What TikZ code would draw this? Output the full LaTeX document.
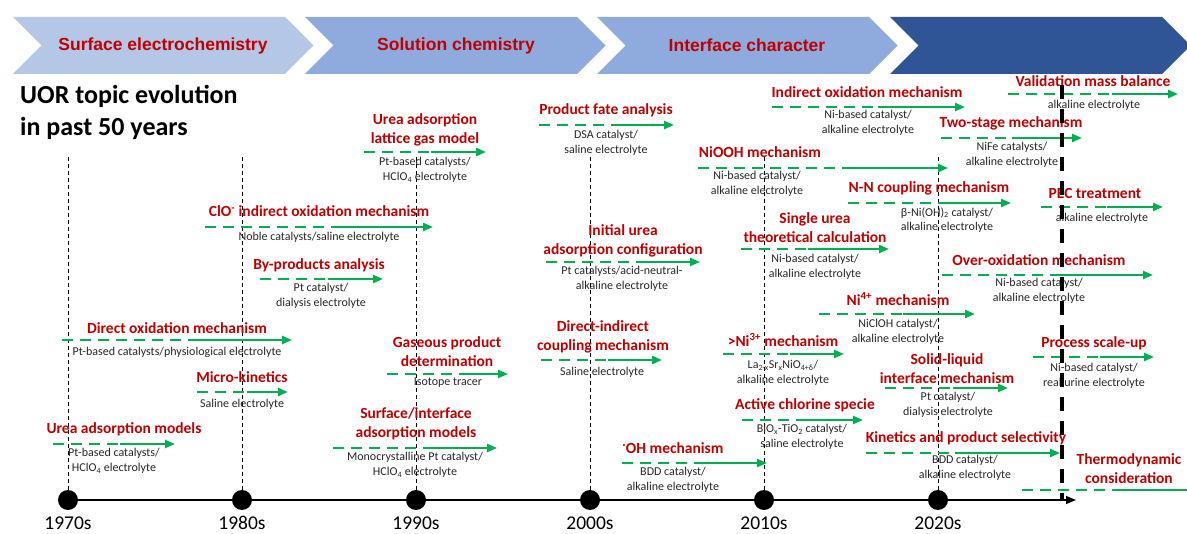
\documentclass[tikz,border=0pt]{standalone}
\usepackage{fontspec}
\setmainfont{Carlito}
\newfontfamily\bannerfont{Liberation Sans}
\usetikzlibrary{arrows.meta,calc}
\definecolor{uorRed}{HTML}{C00000}
\definecolor{uorGreen}{HTML}{00B050}
\definecolor{uorPale}{HTML}{B4C7E7}
\definecolor{uorMid}{HTML}{8FAADC}
\definecolor{uorDeep}{HTML}{2F5597}
\definecolor{uorText}{HTML}{262626}

\tikzset{
  topic/.style={text=uorRed, font=\fontsize{15.5}{19}\selectfont\bfseries, align=center, inner sep=0pt},
  detail/.style={text=uorText, font=\fontsize{12}{14.5}\selectfont, align=center, inner sep=0pt},
  trendline/.style={uorGreen, line width=2.4pt},
  trenddash/.style={trendline, dash pattern=on 11pt off 7pt},
  era/.style={text=uorRed, font=\fontsize{17.5}{20}\bannerfont\bfseries, inner sep=0pt},
  decade/.style={font=\fontsize{19.5}{22}\selectfont, inner sep=0pt},
  guide/.style={black, line width=0.9pt, dash pattern=on 4pt off 3pt},
}

% green trend arrow: name, x start, x end, y, dashed share
\newcommand{\trend}[5]{%
  \coordinate (#1-a) at (#2,#4);
  \coordinate (#1-b) at (#3,#4);
  \coordinate (#1-m) at ($(#1-a)!#5!(#1-b)$);
  \draw[trenddash] (#1-a) -- (#1-m);
  \draw[trendline, -{Triangle[length=10pt,width=8pt]}] (#1-m) -- (#1-b);
}
% banner chevron: x of top left corner, colour
\newcommand{\chevron}[2]{%
  \fill[#2] (#1,17) -- ++(272,0) -- ++(28.5,28.5) -- ++(-28.5,28.5)
    -- ++(-272,0) -- ++(28.5,-28.5) -- cycle;
}

\begin{document}
\begin{tikzpicture}[x=1pt, y=-1pt]
  \useasboundingbox (0,0) rectangle (1187,534);
  \clip (0,0) rectangle (1187,534);

  % banner
  \chevron{13}{uorPale}
  \chevron{305}{uorMid}
  \chevron{597}{uorMid}
  \chevron{890}{uorDeep}
  \node[era] (surf) at (163,45.5) {Surface electrochemistry};
  \node[era] (sol) at (456,45.5) {Solution chemistry};
  \node[era] (intf) at (747,45.5) {Interface character};

  \node[anchor=west, align=left, inner sep=0pt,
        font=\fontsize{26}{32}\selectfont\bfseries] (head) at (20,112)
        {UOR topic evolution\\in past 50 years};

  % decade guides
  \foreach \x in {68,242,416,590,764,938}
    \draw[guide] (\x,157) -- (\x,500);

  % timeline
  \coordinate (axis-end) at (1076,500);
  \node[circle, fill=black, minimum size=20pt, inner sep=0pt] (d70) at (68,500) {};
  \node[circle, fill=black, minimum size=20pt, inner sep=0pt] (d80) at (242,500) {};
  \node[circle, fill=black, minimum size=20pt, inner sep=0pt] (d90) at (416,500) {};
  \node[circle, fill=black, minimum size=20pt, inner sep=0pt] (d00) at (590,500) {};
  \node[circle, fill=black, minimum size=20pt, inner sep=0pt] (d10) at (764,500) {};
  \node[circle, fill=black, minimum size=20pt, inner sep=0pt] (d20) at (938,500) {};
  \draw[line width=1.5pt, -{Triangle[length=10pt,width=8pt]}] (d70) -- (axis-end);
  \node[decade] at (68,523) {1970s};
  \node[decade] at (242,523) {1980s};
  \node[decade] at (416,523) {1990s};
  \node[decade] at (590,523) {2000s};
  \node[decade] at (764,523) {2010s};
  \node[decade] at (938,523) {2020s};

  % 1970s - 1980s
  \node[topic] (uam) at (124,429) {Urea adsorption models};
  \trend{uam}{53}{175}{444}{0.55}
  \node[detail] (uam-d) at (114,461) {Pt-based catalysts/\\HClO\textsubscript{4} electrolyte};

  \node[topic] (mk) at (242,377) {Micro-kinetics};
  \trend{mk}{197}{288}{392}{0.55}
  \node[detail] (mk-d) at (242,404) {Saline electrolyte};

  \node[topic] (dom) at (177,328) {Direct oxidation mechanism};
  \trend{dom}{62}{292}{340}{0.55}
  \node[detail] (dom-d) at (177,352) {Pt-based catalysts/physiological electrolyte};

  \node[topic] (bpa) at (319,265) {By-products analysis};
  \trend{bpa}{260}{383}{279}{0.55}
  \node[detail] (bpa-d) at (321,296) {Pt catalyst/\\dialysis electrolyte};

  \node[topic] (clo) at (319,211) {ClO\textsuperscript{-} indirect oxidation mechanism};
  \trend{clo}{205}{433}{227}{0.56}
  \node[detail] (clo-d) at (319,237) {Noble catalysts/saline electrolyte};

  % 1990s
  \node[topic] (lgm) at (425,130) {Urea adsorption\\lattice gas model};
  \trend{lgm}{364}{486}{152}{0.55}
  \node[detail] (lgm-d) at (425,170) {Pt-based catalysts/\\HClO\textsubscript{4} electrolyte};

  \node[topic] (gpd) at (447,352) {Gaseous product\\determination};
  \trend{gpd}{387}{508}{374}{0.6}
  \node[detail] (gpd-d) at (448,383) {Isotope tracer};

  \node[topic] (sia) at (416,424) {Surface/interface\\adsorption models};
  \trend{sia}{333}{497}{448}{0.55}
  \node[detail] (sia-d) at (415,465) {Monocrystalline Pt catalyst/\\HClO\textsubscript{4} electrolyte};

  % 2000s
  \node[topic] (pfa) at (606,110) {Product fate analysis};
  \trend{pfa}{539}{674}{125}{0.6}
  \node[detail] (pfa-d) at (606,143) {DSA catalyst/\\saline electrolyte};

  \node[topic] (iuc) at (623,241) {Initial urea\\adsorption configuration};
  \trend{iuc}{546}{700}{262}{0.6}
  \node[detail] (iuc-d) at (622,279) {Pt catalysts/acid-neutral-\\alkaline electrolyte};

  \node[topic] (dic) at (603,337) {Direct-indirect\\coupling mechanism};
  \trend{dic}{541}{662}{360}{0.55}
  \node[detail] (dic-d) at (602,372) {Saline electrolyte};

  \node[topic] (ohm) at (673,448) {\textsuperscript{·}OH mechanism};
  \trend{ohm}{622}{767}{463}{0.55}
  \node[detail] (ohm-d) at (673,480) {BDD catalyst/\\alkaline electrolyte};

  % 2010s
  \node[topic] (ni3) at (783,340) {>Ni\textsuperscript{3+} mechanism};
  \trend{ni3}{723}{844}{354}{0.55}
  \node[detail] (ni3-d) at (783,373) {La\textsubscript{2-x}Sr\textsubscript{x}NiO\textsubscript{4+δ}/\\alkaline electrolyte};

  \node[topic] (acs) at (805,405) {Active chlorine specie};
  \trend{acs}{742}{863}{420}{0.54}
  \node[detail] (acs-d) at (802,437) {BiO\textsubscript{x}-TiO\textsubscript{2} catalyst/\\saline electrolyte};

  \node[topic] (sut) at (815,228) {Single urea\\theoretical calculation};
  \trend{sut}{741}{889}{249}{0.45}
  \node[detail] (sut-d) at (815,267) {Ni-based catalyst/\\alkaline electrolyte};

  \node[topic] (niooh) at (760,152) {NiOOH mechanism};
  \trend{niooh}{698}{948}{168}{0.6}
  \node[detail] (niooh-d) at (757,184) {Ni-based catalyst/\\alkaline electrolyte};

  \node[topic] (iom) at (867,92) {Indirect oxidation mechanism};
  \trend{iom}{772}{965}{107}{0.55}
  \node[detail] (iom-d) at (868,123) {Ni-based catalyst/\\alkaline electrolyte};

  \node[topic] (nnc) at (929,188) {N-N coupling mechanism};
  \trend{nnc}{848}{1011}{203}{0.56}
  \node[detail] (nnc-d) at (947,220) {β-Ni(OH)\textsubscript{2} catalyst/\\alkaline electrolyte};

  \node[topic] (ni4) at (898,299) {Ni\textsuperscript{4+} mechanism};
  \trend{ni4}{819}{975}{314}{0.54}
  \node[detail] (ni4-d) at (898,332) {NiClOH catalyst/\\alkaline electrolyte};

  \node[topic] (slm) at (947,369) {Solid-liquid\\interface mechanism};
  \trend{slm}{885}{1008}{388}{0.55}
  \node[detail] (slm-d) at (948,405) {Pt catalyst/\\dialysis electrolyte};

  \node[topic] (kps) at (966,438) {Kinetics and product selectivity};
  \trend{kps}{866}{1060}{453}{0.46}
  \node[detail] (kps-d) at (965,468) {BDD catalyst/\\alkaline electrolyte};

  % 2020s
  \node[topic] (tsm) at (1011,123) {Two-stage mechanism};
  \trend{tsm}{941}{1082}{138}{0.5}
  \node[detail] (tsm-d) at (1012,155) {NiFe catalysts/\\alkaline electrolyte};

  \node[topic] (vmb) at (1093,81) {Validation mass balance};
  \trend{vmb}{1008}{1178}{94}{0.61}
  \node[detail] (vmb-d) at (1094,105) {alkaline electrolyte};

  \node[topic] (pec) at (1095,193) {PEC treatment};
  \trend{pec}{1041}{1163}{207}{0.54}
  \node[detail] (pec-d) at (1102,218) {alkaline electrolyte};

  \node[topic] (oom) at (1039,260) {Over-oxidation mechanism};
  \trend{oom}{942}{1153}{275}{0.54}
  \node[detail] (oom-d) at (1039,291) {Ni-based catalyst/\\alkaline electrolyte};

  \node[topic] (psu) at (1094,343) {Process scale-up};
  \trend{psu}{1033}{1154}{357}{0.55}
  \node[detail] (psu-d) at (1094,376) {Ni-based catalyst/\\real urine electrolyte};

  \node[topic] (tdc) at (1129,469) {Thermodynamic\\consideration};
  \trend{tdc}{1022}{1205}{490}{0.52}

  % present day marker
  \coordinate (now-top) at (1062,85);
  \coordinate (now-foot) at (1062,500);
  \draw[black, line width=3.5pt, dash pattern=on 14pt off 10pt] (now-top) -- (now-foot);
\end{tikzpicture}
\end{document}
